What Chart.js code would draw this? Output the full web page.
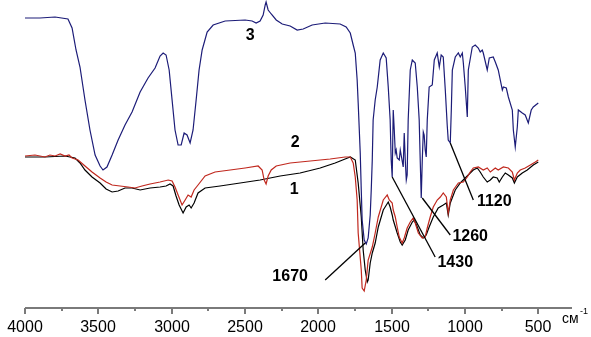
<!DOCTYPE html>
<html>
<head>
<meta charset="utf-8">
<style>
  body { margin: 0; background: #fff; }
  canvas { display: block; }
</style>
</head>
<body>
<canvas id="ir" width="591" height="337"></canvas>
<script src="https://cdn.jsdelivr.net/npm/chart.js"></script>
<script>
// IR spectra, wavenumber (cm-1) vs. transmittance (arbitrary units)
const blueWn = [4000,3898,3795,3707,3679,3652,3625,3591,3557,3522,3488,3468,3441,3406,3365,3318,3270,3215,3161,3113,3079,3058,3038,3017,2997,2977,2956,2935,2915,2895,2874,2854,2833,2813,2792,2758,2717,2635,2499,2451,2424,2397,2376,2362,2356,2342,2321,2287,2246,2192,2144,2103,2042,1953,1851,1810,1782,1762,1748,1735,1728,1714,1707,1701,1687,1673,1660,1646,1639,1632,1626,1612,1598,1578,1557,1537,1523,1510,1503,1496,1489,1482,1475,1469,1462,1448,1441,1435,1421,1414,1407,1400,1394,1387,1373,1359,1339,1325,1312,1305,1298,1291,1284,1278,1271,1264,1257,1244,1223,1209,1189,1175,1162,1148,1134,1121,1114,1100,1093,1086,1066,1045,1032,1018,1011,998,984,977,950,930,909,896,882,875,848,834,807,793,773,745,738,718,704,677,670,657,643,636,609,589,568,548,534,500];
const blueT  = [290,290,291,289,280,258,241,208,178,153,142,138,141,153,168,183,196,216,230,240,252,255,253,238,208,178,163,163,175,173,165,178,208,238,258,276,283,287,288,287,285,287,293,303,306,298,294,288,284,282,278,279,283,285,284,281,275,263,255,228,205,155,118,88,68,64,70,93,118,148,188,208,221,248,255,250,221,188,148,131,198,178,155,158,150,148,158,153,141,175,148,128,133,188,238,248,245,221,188,148,110,148,176,173,158,151,188,221,223,248,255,241,253,251,218,183,168,165,198,238,251,255,251,255,245,221,191,238,261,263,260,256,258,255,238,250,251,246,238,218,221,220,211,198,178,161,181,198,195,193,185,198,201,205];

const blackWn = [4000,3864,3727,3659,3625,3591,3543,3488,3447,3406,3365,3318,3270,3215,3147,3079,3038,3011,2990,2970,2949,2922,2901,2881,2867,2847,2820,2772,2670,2533,2397,2260,2124,1987,1885,1817,1782,1748,1728,1707,1694,1680,1666,1660,1646,1632,1612,1591,1557,1523,1510,1496,1489,1462,1441,1428,1407,1387,1359,1346,1325,1305,1284,1264,1244,1216,1182,1148,1127,1114,1100,1066,1032,998,964,943,916,896,875,848,827,807,780,766,745,725,704,677,663,643,609,575,534,500];
const blackT  = [151,151,152,150,145,138,131,125,119,116,117,120,120,118,120,121,122,124,122,112,103,95,101,103,100,105,115,120,122,125,128,132,135,140,145,149,151,148,125,91,58,38,26,28,45,55,65,81,98,106,101,93,88,75,66,63,68,78,86,88,81,73,70,73,81,91,100,103,105,93,105,118,125,130,135,138,140,136,131,126,128,131,130,126,131,135,133,130,125,131,135,138,143,146];

const redWn = [4000,3932,3864,3830,3795,3760,3727,3700,3679,3638,3591,3543,3488,3447,3406,3352,3297,3250,3202,3147,3079,3024,2997,2977,2956,2929,2908,2888,2867,2847,2820,2772,2704,2601,2499,2410,2383,2369,2356,2342,2321,2287,2192,2055,1919,1817,1782,1762,1748,1735,1728,1707,1701,1687,1673,1660,1632,1612,1591,1557,1530,1516,1496,1489,1475,1462,1448,1428,1414,1394,1373,1353,1339,1318,1291,1271,1257,1237,1216,1189,1168,1148,1127,1114,1100,1079,1045,1011,984,964,943,909,875,848,827,793,773,738,704,677,663,643,623,589,554,520,500];
const redT  = [152,153,151,153,152,154,152,153,150,148,142,136,130,126,123,122,121,120,122,124,126,128,127,121,113,103,108,113,111,118,123,132,136,138,140,142,138,128,124,132,138,142,145,147,149,151,151,145,131,108,75,38,20,17,28,48,61,75,91,108,113,108,105,98,91,81,71,65,70,80,86,90,85,75,70,71,80,91,101,108,111,115,111,95,108,118,125,126,131,136,140,141,138,140,136,140,138,141,140,136,128,135,138,140,143,146,148];

const xTicks = [4000,3750,3500,3250,3000,2750,2500,2250,2000,1750,1500,1250,1000,750,500];
const curveLabels = [['3', 2465, 272], ['2', 2158, 165], ['1', 2165, 118]];
// [text, label wn, label T, line start wn, line start T, line end wn, line end T]
const peakMarks = [
  ['1670', 2192, 31, 1953, 28, 1680, 65],
  ['1430', 1066, 45, 1203, 51, 1496, 131],
  ['1260', 964, 71, 1100, 73, 1291, 110],
  ['1120', 800, 106, 943, 108, 1100, 165]
];

function pts(xs, ys) { return xs.map((x, i) => ({ x: x, y: ys[i] })); }

const decor = {
  id: 'decor',
  afterDatasetsDraw(chart) {
    const c = chart.ctx, xs = chart.scales.x, ys = chart.scales.y;
    const y0 = chart.chartArea.bottom;
    c.save();
    // axis
    c.strokeStyle = '#7a7a7a';
    c.lineWidth = 2;
    c.beginPath();
    c.moveTo(xs.getPixelForValue(4000), y0);
    c.lineTo(chart.chartArea.right, y0);
    c.stroke();
    c.fillStyle = '#000';
    c.font = '16px Arial, "Liberation Sans", sans-serif';
    c.textAlign = 'center';
    c.textBaseline = 'middle';
    xTicks.forEach(t => {
      const px = Math.round(xs.getPixelForValue(t));
      const major = t % 500 === 0;
      c.beginPath();
      c.moveTo(px, y0);
      c.lineTo(px, y0 + (major ? 6 : 3));
      c.stroke();
      if (major) c.fillText(String(t), px, y0 + 20);
    });
    c.font = '14px Arial, "Liberation Sans", sans-serif';
    c.textAlign = 'left';
    c.fillText('см', 562, y0 + 11);
    c.font = '9px Arial, "Liberation Sans", sans-serif';
    c.fillText('-1', 580, y0 + 4);

    // curve numbers
    c.font = 'bold 16px Arial, "Liberation Sans", sans-serif';
    c.textAlign = 'center';
    curveLabels.forEach(l => c.fillText(l[0], xs.getPixelForValue(l[1]), ys.getPixelForValue(l[2])));

    // peak marks
    c.strokeStyle = '#000';
    c.lineWidth = 1.3;
    peakMarks.forEach(m => {
      c.fillText(m[0], xs.getPixelForValue(m[1]), ys.getPixelForValue(m[2]));
      c.beginPath();
      c.moveTo(xs.getPixelForValue(m[3]), ys.getPixelForValue(m[4]));
      c.lineTo(xs.getPixelForValue(m[5]), ys.getPixelForValue(m[6]));
      c.stroke();
    });
    c.restore();
  }
};

new Chart(document.getElementById('ir'), {
  type: 'line',
  data: {
    datasets: [
      { label: '3', data: pts(blueWn, blueT), borderColor: '#1c1c78', borderWidth: 1.2 },
      { label: '2', data: pts(redWn, redT), borderColor: '#c0281e', borderWidth: 1.2 },
      { label: '1', data: pts(blackWn, blackT), borderColor: '#000000', borderWidth: 1.2 }
    ]
  },
  options: {
    responsive: false,
    animation: false,
    events: [],
    elements: { point: { radius: 0 }, line: { tension: 0 } },
    layout: { padding: { left: 25, right: 19, top: 0, bottom: 29 } },
    plugins: { legend: { display: false }, tooltip: { enabled: false } },
    scales: {
      x: { type: 'linear', reverse: true, min: 270, max: 4000, display: false },
      y: { min: 0, max: 308, display: false }
    }
  },
  plugins: [decor]
});
</script>
</body>
</html>
